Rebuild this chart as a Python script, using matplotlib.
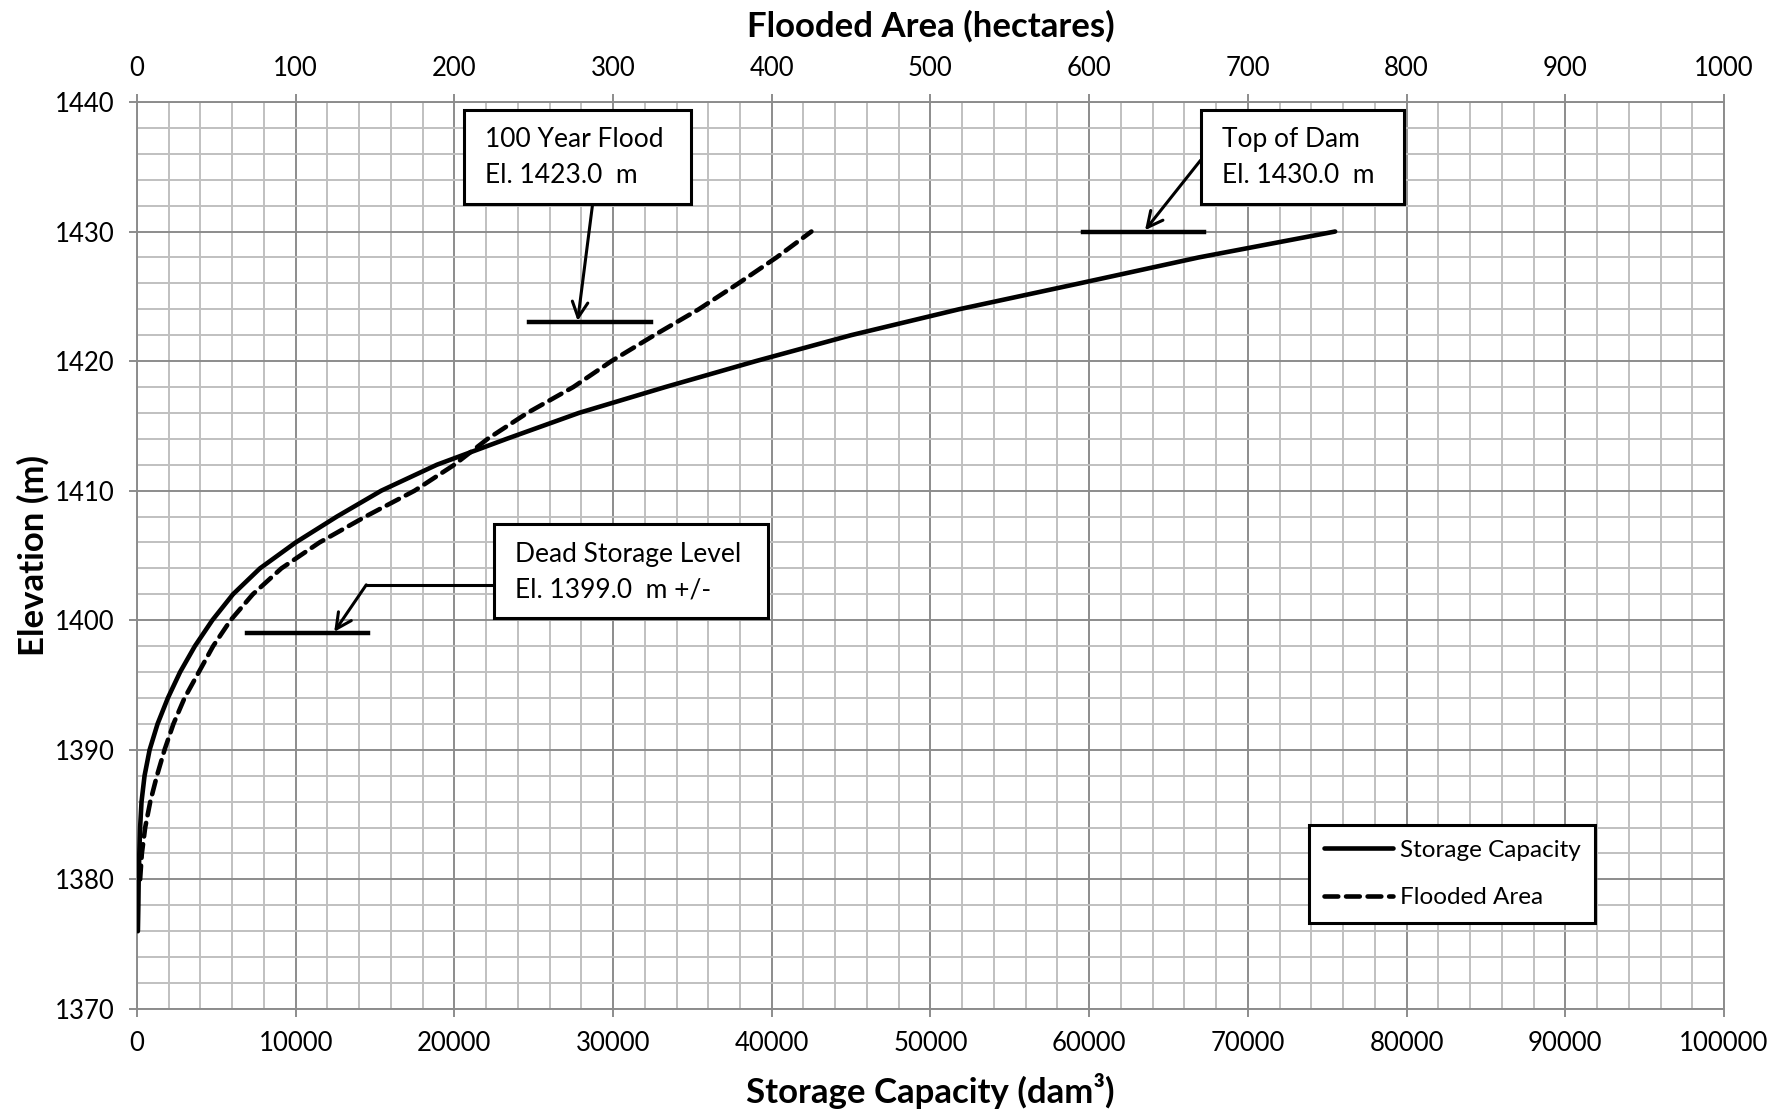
import matplotlib
matplotlib.use("Agg")
import matplotlib.pyplot as plt
from matplotlib.patches import Rectangle
import numpy as np

plt.rcParams['font.family'] = ['Lato', 'DejaVu Sans']

# Elevation-storage-area curve
elev_storage = [1376, 1378, 1380, 1382, 1384, 1386, 1388, 1390, 1392, 1394, 1396, 1398,
                1400, 1402, 1404, 1406, 1408, 1410, 1412, 1414, 1416, 1418, 1420, 1422,
                1424, 1426, 1428, 1430]
storage_dam3 = [60, 90, 110, 150, 200, 290, 480, 800, 1300, 1950, 2720, 3650,
                4750, 6050, 7750, 10000, 12600, 15400, 18900, 23300, 27850, 33300, 39000, 45000,
                51800, 59400, 66900, 75500]

elev_area = [1380, 1382, 1384, 1386, 1388, 1390, 1392, 1394, 1396, 1398, 1400, 1402,
             1404, 1406, 1408, 1410, 1412, 1414, 1416, 1418, 1420, 1422, 1424, 1426,
             1428, 1430]
area_ha = [2, 3.1, 5.2, 8.4, 12.6, 17.4, 23, 30, 39, 48, 59, 73,
           91, 115, 144, 175, 200, 221, 246, 275, 299, 326, 354, 379,
           403, 425]

# Key levels
flood_100yr = 1423.0
top_of_dam = 1430.0
dead_storage = 1399.0

fig = plt.figure(figsize=(17.83, 11.13), dpi=100)
ax = fig.add_axes([0.0768, 0.0935, 0.8901, 0.8149])

major_c = '#8c8c8c'
minor_c = '#c0c0c0'
tick_fs = 18.5
title_fs = 25

ax.set_xlim(0, 100000)
ax.set_ylim(1370, 1440)
ax.set_xticks(np.arange(0, 100001, 10000))
ax.set_xticks(np.arange(0, 100001, 2000), minor=True)
ax.set_yticks(np.arange(1370, 1441, 10))
ax.set_yticks(np.arange(1370, 1441, 2), minor=True)
ax.grid(which='minor', color=minor_c, linewidth=1.4)
ax.grid(which='major', color=major_c, linewidth=1.4)
ax.set_axisbelow(True)
ax.tick_params(which='major', length=6, width=1.4, color=major_c, labelsize=tick_fs, pad=10)
ax.tick_params(which='minor', length=0)
for s in ax.spines.values():
    s.set_color(major_c)
    s.set_linewidth(1.4)

l1, = ax.plot(storage_dam3, elev_storage, color='black', linewidth=3.3, label='Storage Capacity',
              solid_capstyle='round', solid_joinstyle='round', zorder=5)

# top axis: flooded area
ax2 = ax.twiny()
ax2.set_xlim(0, 1000)
ax2.set_xticks(np.arange(0, 1001, 100))
ax2.tick_params(which='major', length=6, width=1.4, color=major_c, labelsize=tick_fs, pad=9)
for s in ax2.spines.values():
    s.set_visible(False)
l2, = ax2.plot(area_ha, elev_area, color='black', linewidth=3.3, linestyle=(0, (3.0, 1.7)),
               dash_capstyle='round', label='Flooded Area', zorder=5)

ax.set_xlabel('Storage Capacity (dam³)', fontsize=title_fs, fontweight='bold', labelpad=12)
ax2.set_xlabel('Flooded Area (hectares)', fontsize=title_fs, fontweight='bold', labelpad=14)
ax.set_ylabel('Elevation (m)', fontsize=title_fs, fontweight='bold', labelpad=4)

# annotations (drawn on the storage/elevation axes)
ann_fs = 19
lw_lvl = 3.2
lw_arr = 2.2


def callout(x0, x1, y0, y1, tx, lines):
    ax.add_patch(Rectangle((x0, y0), x1 - x0, y1 - y0, facecolor='white', edgecolor='black',
                           linewidth=2.2, zorder=8))
    ax.text(tx, y1 - 2.3, lines[0], fontsize=ann_fs, va='center', ha='left', zorder=9)
    ax.text(tx, y1 - 5.1, lines[1], fontsize=ann_fs, va='center', ha='left', zorder=9)


def arrow(x0, y0, x1, y1):
    ax.annotate('', xy=(x1, y1), xytext=(x0, y0),
                arrowprops=dict(arrowstyle='->', color='black', lw=lw_arr,
                                mutation_scale=28, shrinkA=0, shrinkB=0), zorder=7)


# 100 year flood
ax.plot([24720, 32370], [flood_100yr, flood_100yr], color='black', linewidth=lw_lvl, zorder=6)
arrow(28710, 1432.1, 27770, flood_100yr + 0.1)
callout(20600, 34890, 1432.1, 1439.4, 21930, ['100 Year Flood', 'El. %.1f  m' % flood_100yr])

# top of dam
ax.plot([59630, 67230], [top_of_dam, top_of_dam], color='black', linewidth=lw_lvl, zorder=6)
arrow(67020, 1435.5, 63520, top_of_dam + 0.1)
callout(67050, 79860, 1432.1, 1439.4, 68350, ['Top of Dam', 'El. %.1f  m' % top_of_dam])

# dead storage
ax.plot([6930, 14540], [dead_storage, dead_storage], color='black', linewidth=lw_lvl, zorder=6)
ax.plot([22510, 14450], [1402.73, 1402.73], color='black', linewidth=lw_arr, zorder=7)
arrow(14450, 1402.73, 12430, dead_storage + 0.1)
callout(22510, 39770, 1400.2, 1407.4, 23840, ['Dead Storage Level', 'El. %.1f  m +/-' % dead_storage])

leg = ax2.legend(handles=[l1, l2], loc='upper left', bbox_to_anchor=(0.7385, 0.2029),
                 fontsize=17.5, frameon=True, fancybox=False, framealpha=1,
                 handlelength=2.85, handletextpad=0.28, labelspacing=1.1, borderpad=0.6,
                 borderaxespad=0)
leg.get_frame().set_edgecolor('black')
leg.get_frame().set_linewidth(2.2)
leg.set_zorder(10)

fig.savefig('out.png', dpi=100)
